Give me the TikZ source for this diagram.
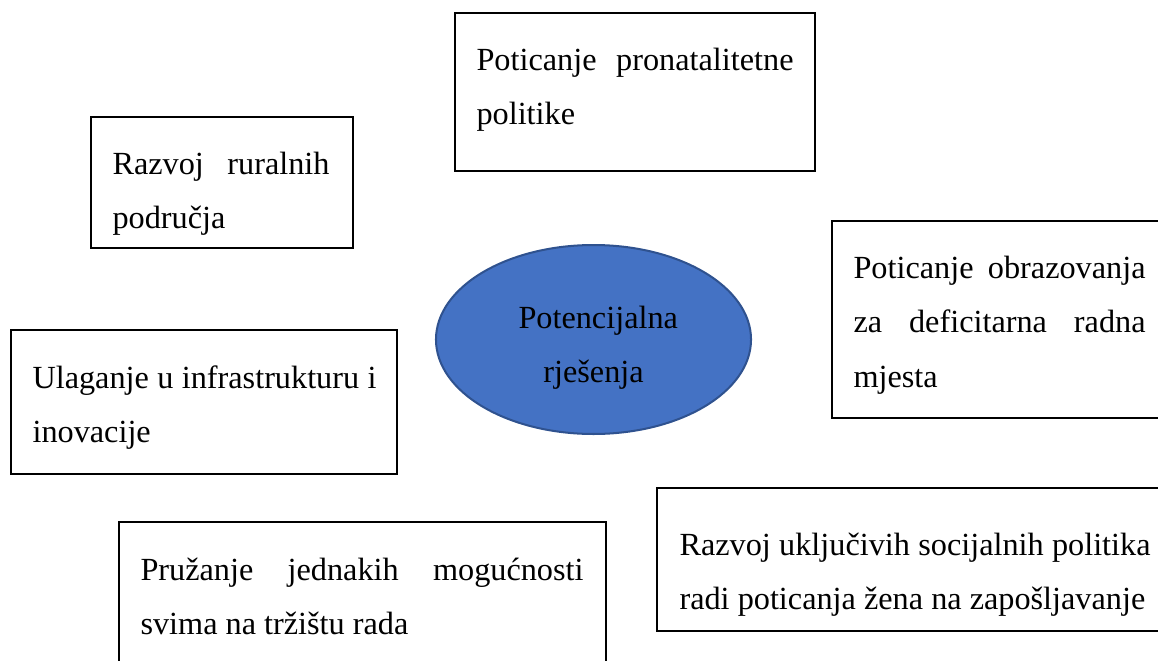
\documentclass[tikz,border=0pt]{standalone}
\usepackage{fontspec}
\setmainfont{Liberation Serif}
\usetikzlibrary{fit,shapes.geometric}
\definecolor{hubfill}{HTML}{4472C4}
\definecolor{hubline}{HTML}{2F528F}
\hyphenpenalty=10000
\tolerance=10000
\hbadness=10000
\begin{document}
\begin{tikzpicture}[x=0.372pt,y=-0.372pt,
    box/.style={draw,line width=0.75pt,inner sep=0pt},
    txt/.style={anchor=base west,inner sep=0pt,align=justify,
      font=\fontsize{12}{20.3}\selectfont}]
  \clip (0,0) rectangle (1158,660);
  \node[box,fit={(455,13) (815,171)}] (natal) {};
  \node[box,fit={(91,117) (353,248)}] (rural) {};
  \node[box,fit={(832,221) (1175,418)}] (edu) {};
  \node[box,fit={(11,330) (397,474)}] (infra) {};
  \node[box,fit={(119,522) (606,680)}] (equal) {};
  \node[box,fit={(657,488) (1175,631)}] (social) {};
  \node[ellipse,draw=hubline,fill=hubfill,line width=0.75pt,inner sep=0pt,
    minimum width=117.2pt,minimum height=70.3pt] (hub) at (593.5,339.5) {};

  \node[txt,text width=317*0.372pt] (natal-t) at (476,70) {Poticanje pronatalitetne\linebreak politike};
  \node[txt,text width=217*0.372pt] (rural-t) at (112,174) {Razvoj ruralnih\linebreak područja};
  \node[txt,text width=292*0.372pt] (edu-t) at (853,278) {Poticanje obrazovanja\linebreak za deficitarna radna\linebreak mjesta};
  \node[txt,text width=344*0.372pt] (infra-t) at (32,388) {Ulaganje u infrastrukturu i\linebreak inovacije};
  \node[txt,text width=443*0.372pt] (equal-t) at (140,580) {Pružanje jednakih mogućnosti\linebreak svima na tržištu rada};
  \node[txt,text width=471*0.372pt] (social-t) at (679,555) {Razvoj uključivih socijalnih politika\linebreak radi poticanja žena na zapošljavanje};
  \node[txt,anchor=base,align=center,text width=150*0.372pt] (hub-t) at (593.5,328) {Potencijalna\\rješenja};
\end{tikzpicture}
\end{document}
